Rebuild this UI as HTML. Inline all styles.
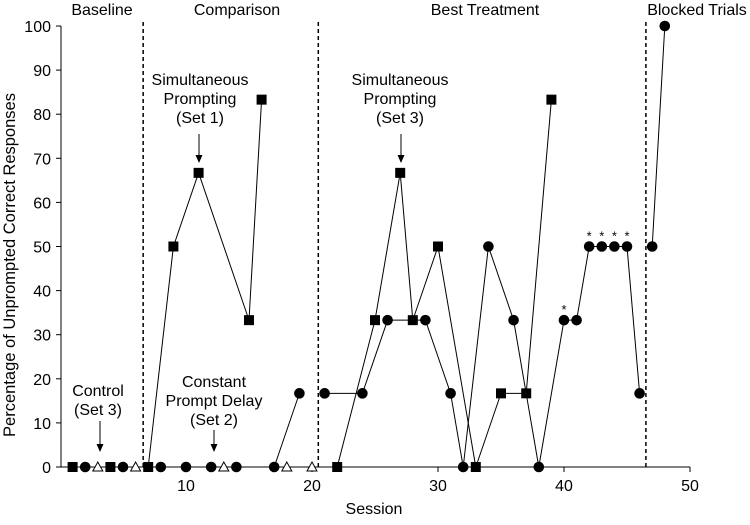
<!DOCTYPE html>
<html><head><meta charset="utf-8"><style>
body{margin:0;background:#fff}
text{font-family:"Liberation Sans",Arial,sans-serif;fill:#000}
</style></head><body>
<svg id="chart" width="750" height="520" xmlns="http://www.w3.org/2000/svg"></svg>
<script>
const xTicks=[10,20,30,40,50];
const yTicks=[0,10,20,30,40,50,60,70,80,90,100];
const baseSqX=[1,4], baseSqY=[0,0];
const baseCiX=[2,5], baseCiY=[0,0];
const triX=[3,6,13,18,20], triY=[0,0,0,0,0];
const sqSegments=[
 {x:[7,9,11,15,16],y:[0,50,66.7,33.3,83.3]},
 {x:[22,25,27,28,30,33,35,37,39],y:[0,33.3,66.7,33.3,50,0,16.7,16.7,83.3]}
];
const ciSegments=[
 {x:[8],y:[0]},{x:[10],y:[0]},{x:[12],y:[0]},{x:[14],y:[0]},
 {x:[17,19],y:[0,16.7]},
 {x:[21,24,26,29,31,32,34,36,38,40,41,42,43,44,45,46],y:[16.7,16.7,33.3,33.3,16.7,0,50,33.3,0,33.3,33.3,50,50,50,50,16.7]},
 {x:[47,48],y:[50,100]}
];
const starX=[40,42,43,44,45], starY=[33.3,50,50,50,50];
const phaseLines=[6.6,20.5,46.5];
const X=v=>60+v*12.6, Y=v=>467-v*4.41;
const svg=document.getElementById('chart');
const NS='http://www.w3.org/2000/svg';
function mk(t,a,p){const e=document.createElementNS(NS,t);for(const k in a)e.setAttribute(k,a[k]);(p||svg).appendChild(e);return e;}
let e=mk('line',{x1:61,y1:Y(100),x2:61,y2:467,stroke:'#000','stroke-width':1});


e=mk('line',{x1:61,y1:467,x2:X(50),y2:467,stroke:'#000','stroke-width':1});


yTicks.forEach(v=>{mk('line',{x1:56,x2:61,y1:Y(v),y2:Y(v),stroke:'#000'});
 e=mk('text',{x:51,y:Y(v)+6,'text-anchor':'end','font-size':16});e.textContent=v;
 
 });
xTicks.forEach(v=>{mk('line',{x1:X(v),x2:X(v),y1:467,y2:472,stroke:'#000'});
 e=mk('text',{x:X(v),y:491,'text-anchor':'middle','font-size':16});e.textContent=v;
 
 });
e=mk('text',{x:374,y:514,'text-anchor':'middle','font-size':16});e.textContent='Session';


e=mk('text',{x:0,y:0,'text-anchor':'middle','font-size':16.5,transform:'translate(15,265) rotate(-90)'});e.textContent='Percentage of Unprompted Correct Responses';


phaseLines.forEach(v=>{e=mk('line',{x1:X(v),x2:X(v),y1:22,y2:467,stroke:'#000','stroke-width':1.5,'stroke-dasharray':'4,3'});
 
 });
[['Baseline',102],['Comparison',237],['Best Treatment',485],['Blocked Trials',697]].forEach(p=>{
 e=mk('text',{x:p[1],y:15,'text-anchor':'middle','font-size':16});e.textContent=p[0];
 
 });
sqSegments.concat(ciSegments).forEach(s=>{if(s.x.length>1){
 e=mk('polyline',{points:s.x.map((x,i)=>X(x)+','+Y(s.y[i])).join(' '),fill:'none',stroke:'#000','stroke-width':1});
 
 }});
function sq(x,y){e=mk('rect',{x:X(x)-5,y:Y(y)-5,width:10,height:10,fill:'#000'});
 
 }
function ci(x,y){e=mk('circle',{cx:X(x),cy:Y(y),r:5.3,fill:'#000'});
 
 }
baseSqX.forEach((x,i)=>sq(x,baseSqY[i]));
baseCiX.forEach((x,i)=>ci(x,baseCiY[i]));
sqSegments.forEach(s=>s.x.forEach((x,i)=>sq(x,s.y[i])));
ciSegments.forEach(s=>s.x.forEach((x,i)=>ci(x,s.y[i])));
triX.forEach((x,i)=>{const cx=X(x),cy=Y(triY[i]);
 e=mk('polygon',{points:`${cx},${cy-5} ${cx-5},${cy+4} ${cx+5},${cy+4}`,fill:'#fff',stroke:'#000','stroke-width':1});
 
 });
starX.forEach((x,i)=>{e=mk('text',{x:X(x),y:Y(starY[i])-6,'text-anchor':'middle','font-size':13});e.textContent='*';
 
 });
function note(lines,cx,ty,ax,ay1,ay2){lines.forEach((l,i)=>{e=mk('text',{x:cx,y:ty+i*19,'text-anchor':'middle','font-size':16});e.textContent=l;
 
 });
 mk('line',{x1:ax,x2:ax,y1:ay1,y2:ay2-6,stroke:'#000'});
 mk('polygon',{points:`${ax-3.5},${ay2-8} ${ax+3.5},${ay2-8} ${ax},${ay2}`,fill:'#000'});}
note(['Simultaneous','Prompting','(Set 1)'],200,85,199,134,163);
note(['Simultaneous','Prompting','(Set 3)'],400,85,401,134,163);
note(['Control','(Set 3)'],98,396,100,421,452);
note(['Constant','Prompt Delay','(Set 2)'],214,387,214,430,452);
</script>
</body></html>
